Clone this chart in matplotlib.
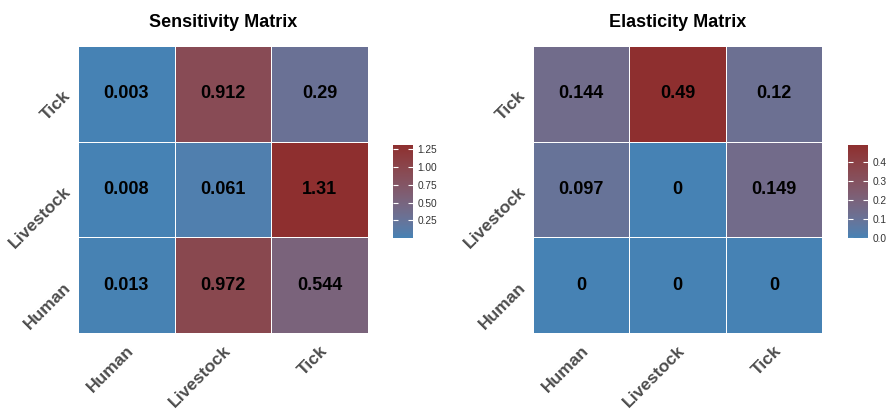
import numpy as np
import matplotlib
matplotlib.use("Agg")
import matplotlib.pyplot as plt
from matplotlib.colors import ListedColormap, Normalize, to_rgb

plt.rcParams['font.family'] = ['Liberation Sans', 'DejaVu Sans']

species = ['Human', 'Livestock', 'Tick']
# rows follow species order from bottom (Human) to top (Tick)
sensitivity = [
    [0.013, 0.972, 0.544],
    [0.008, 0.061, 1.31],
    [0.003, 0.912, 0.29],
]
elasticity = [
    [0, 0, 0],
    [0.097, 0, 0.149],
    [0.144, 0.49, 0.12],
]
sens_ticks = [0.25, 0.50, 0.75, 1.00, 1.25]
elas_ticks = [0.0, 0.1, 0.2, 0.3, 0.4]

LOW = '#4682B4'
HIGH = '#8E2F2F'


def srgb_to_lab(rgb):
    c = np.asarray(rgb, float)
    c = np.where(c > 0.04045, ((c + 0.055) / 1.055) ** 2.4, c / 12.92)
    m = np.array([[0.4124, 0.3576, 0.1805],
                  [0.2126, 0.7152, 0.0722],
                  [0.0193, 0.1192, 0.9505]])
    xyz = m @ c / np.array([0.95047, 1.0, 1.08883])
    f = np.where(xyz > 0.008856, np.cbrt(xyz), 7.787 * xyz + 16 / 116)
    return np.array([116 * f[1] - 16, 500 * (f[0] - f[1]), 200 * (f[1] - f[2])])


def lab_to_srgb(lab):
    L, a, b = lab
    fy = (L + 16) / 116
    f = np.array([fy + a / 500, fy, fy - b / 200])
    xyz = np.where(f ** 3 > 0.008856, f ** 3, (f - 16 / 116) / 7.787)
    xyz = xyz * np.array([0.95047, 1.0, 1.08883])
    m = np.array([[3.2406, -1.5372, -0.4986],
                  [-0.9689, 1.8758, 0.0415],
                  [0.0557, -0.2040, 1.0570]])
    c = m @ xyz
    c = np.where(c > 0.0031308, 1.055 * np.clip(c, 0, None) ** (1 / 2.4) - 0.055, 12.92 * c)
    return np.clip(c, 0, 1)


lab_lo, lab_hi = srgb_to_lab(to_rgb(LOW)), srgb_to_lab(to_rgb(HIGH))
cmap = ListedColormap([lab_to_srgb(lab_lo + t * (lab_hi - lab_lo))
                       for t in np.linspace(0, 1, 256)])

W, H = 888, 413
fig = plt.figure(figsize=(W / 100, H / 100), dpi=100)


def px_axes(x0, y0, x1, y1):
    return fig.add_axes([x0 / W, 1 - y1 / H, (x1 - x0) / W, (y1 - y0) / H])


def heatmap(ax, cax, data, title, ticks, fmt):
    data = np.array(data)
    norm = Normalize(data.min(), data.max())
    mesh = ax.pcolormesh(data, cmap=cmap, norm=norm, edgecolors='white', linewidth=0.6)
    for i in range(data.shape[0]):
        for j in range(data.shape[1]):
            ax.text(j + 0.5, i + 0.5, f'{data[i, j]:g}', ha='center', va='center',
                    fontsize=13, fontweight='bold', color='black')
    ax.set_xticks(np.arange(3) + 0.5)
    ax.set_yticks(np.arange(3) + 0.5)
    ax.set_xticklabels(species, rotation=45, ha='right', va='top',
                       rotation_mode='anchor')
    ax.set_yticklabels(species, rotation=45, ha='right', va='center',
                       rotation_mode='anchor')
    ax.tick_params(axis='x', pad=7)
    ax.tick_params(axis='y', pad=7)
    ax.tick_params(length=0, labelsize=12.5, labelcolor='#4D4D4D')
    for lab in ax.get_xticklabels() + ax.get_yticklabels():
        lab.set_fontweight('bold')
    for s in ax.spines.values():
        s.set_visible(False)
    ax.set_title(title, fontsize=13, fontweight='bold', pad=14)

    cb = fig.colorbar(mesh, cax=cax, ticks=ticks)
    cb.outline.set_visible(False)
    cb.ax.set_yticklabels([fmt.format(t) for t in ticks])
    cb.ax.tick_params(direction='in', color='white', length=3.5, width=0.8,
                      left=True, right=True, labelsize=7.3, labelcolor='#333333', pad=3)


ax1 = px_axes(78, 46, 368, 333)
cax1 = px_axes(393, 145, 413, 238)
ax2 = px_axes(533, 46, 822, 333)
cax2 = px_axes(848, 145, 868, 238)

heatmap(ax1, cax1, sensitivity, 'Sensitivity Matrix', sens_ticks, '{:.2f}')
heatmap(ax2, cax2, elasticity, 'Elasticity Matrix', elas_ticks, '{:.1f}')

fig.savefig('out.png', dpi=100)
